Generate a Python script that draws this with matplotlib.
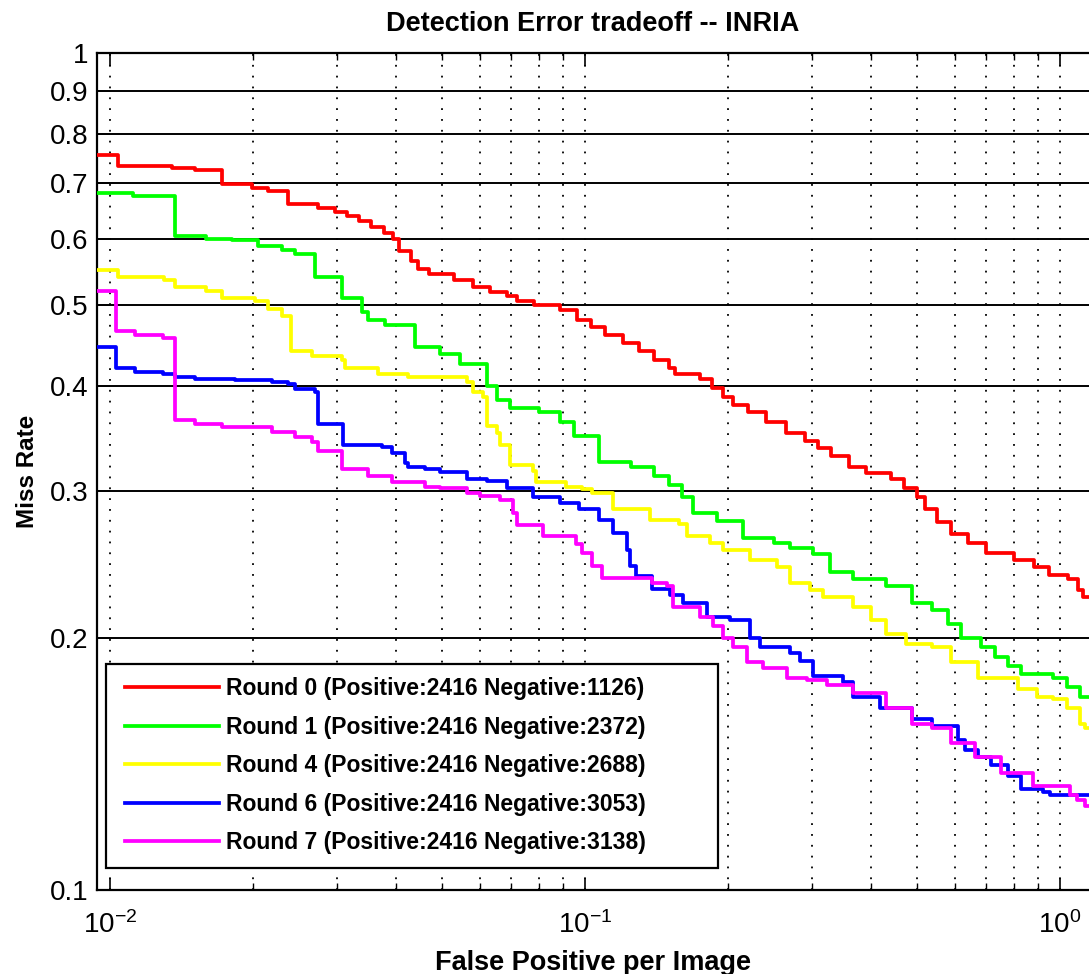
# -*- coding: utf-8 -*-
import numpy as np
import matplotlib
matplotlib.use("Agg")
import matplotlib.pyplot as plt
from matplotlib.lines import Line2D
from matplotlib.legend_handler import HandlerLine2D
from matplotlib.ticker import FixedLocator, FixedFormatter, NullLocator, LogLocator

# DET curves (fppi, miss rate), step style
r0_fppi = [0.0094, 0.0104, 0.0135, 0.0151, 0.0172, 0.0199, 0.0215, 0.0237, 0.0274, 0.0298,
           0.0315, 0.0335, 0.0355, 0.0378, 0.0395, 0.0405, 0.0430, 0.0445, 0.0470, 0.0530,
           0.0580, 0.0630, 0.0685, 0.0720, 0.0780, 0.0885, 0.0960, 0.1030, 0.1100, 0.1200,
           0.1300, 0.1400, 0.1500, 0.1550, 0.1750, 0.1850, 0.1950, 0.2050, 0.2200, 0.2400,
           0.2650, 0.2900, 0.3100, 0.3300, 0.3600, 0.3900, 0.4400, 0.4700, 0.5000, 0.5200,
           0.5500, 0.5900, 0.6400, 0.7000, 0.8000, 0.8800, 0.9500, 1.0400, 1.0900, 1.1200]
r0_miss = [0.755, 0.732, 0.728, 0.724, 0.698, 0.690, 0.684, 0.660, 0.652, 0.645,
           0.638, 0.630, 0.620, 0.610, 0.600, 0.580, 0.565, 0.552, 0.545, 0.535,
           0.525, 0.518, 0.512, 0.505, 0.500, 0.493, 0.480, 0.470, 0.460, 0.450,
           0.440, 0.430, 0.420, 0.413, 0.408, 0.398, 0.388, 0.380, 0.372, 0.362,
           0.352, 0.344, 0.337, 0.330, 0.320, 0.315, 0.310, 0.302, 0.295, 0.285,
           0.275, 0.266, 0.260, 0.253, 0.248, 0.243, 0.238, 0.235, 0.228, 0.224]

r1_fppi = [0.0094, 0.0112, 0.0137, 0.0159, 0.0181, 0.0205, 0.0230, 0.0245, 0.0270, 0.0308,
           0.0339, 0.0350, 0.0379, 0.0439, 0.0495, 0.0545, 0.0621, 0.0652, 0.0695, 0.0800,
           0.0884, 0.0950, 0.1070, 0.1250, 0.1400, 0.1500, 0.1600, 0.1690, 0.1900, 0.2150,
           0.2500, 0.2700, 0.3020, 0.3280, 0.3660, 0.4310, 0.4880, 0.5370, 0.5800, 0.6200,
           0.6820, 0.7300, 0.7760, 0.8260, 0.9660, 1.0340, 1.1000]
r1_miss = [0.680, 0.675, 0.605, 0.600, 0.598, 0.588, 0.582, 0.576, 0.540, 0.510,
           0.490, 0.480, 0.473, 0.445, 0.437, 0.425, 0.400, 0.385, 0.377, 0.372,
           0.362, 0.349, 0.325, 0.320, 0.312, 0.305, 0.295, 0.282, 0.276, 0.263,
           0.260, 0.256, 0.252, 0.240, 0.235, 0.231, 0.220, 0.216, 0.208, 0.200,
           0.195, 0.190, 0.185, 0.181, 0.179, 0.175, 0.170]

r4_fppi = [0.0094, 0.0104, 0.0130, 0.0137, 0.0159, 0.0172, 0.0202, 0.0215, 0.0230, 0.0241,
           0.0266, 0.0308, 0.0312, 0.0366, 0.0424, 0.0564, 0.0580, 0.0609, 0.0621, 0.0652,
           0.0662, 0.0695, 0.0776, 0.0790, 0.0914, 0.0988, 0.1037, 0.1144, 0.1370, 0.1580,
           0.1640, 0.1830, 0.1956, 0.2229, 0.2538, 0.2700, 0.2980, 0.3170, 0.3660, 0.4000,
           0.4310, 0.4740, 0.5370, 0.5910, 0.6720, 0.8140, 0.8940, 0.9660, 1.0340, 1.1000,
           1.1300]
r4_miss = [0.550, 0.540, 0.535, 0.525, 0.520, 0.510, 0.505, 0.495, 0.485, 0.440,
           0.435, 0.430, 0.420, 0.413, 0.410, 0.404, 0.394, 0.388, 0.358, 0.352,
           0.340, 0.322, 0.317, 0.307, 0.303, 0.301, 0.298, 0.285, 0.277, 0.274,
           0.265, 0.260, 0.255, 0.248, 0.243, 0.233, 0.228, 0.224, 0.218, 0.210,
           0.202, 0.197, 0.195, 0.187, 0.179, 0.174, 0.170, 0.169, 0.165, 0.158,
           0.156]

r6_fppi = [0.0094, 0.0103, 0.0113, 0.0129, 0.0137, 0.0151, 0.0183, 0.0219, 0.0237, 0.0245,
           0.0270, 0.0274, 0.0309, 0.0373, 0.0392, 0.0417, 0.0424, 0.0460, 0.0495, 0.0564,
           0.0621, 0.0685, 0.0776, 0.0884, 0.0973, 0.1070, 0.1144, 0.1225, 0.1244, 0.1280,
           0.1387, 0.1512, 0.1610, 0.1810, 0.2016, 0.2229, 0.2340, 0.2700, 0.2838, 0.3024,
           0.3490, 0.3660, 0.4169, 0.4880, 0.5370, 0.6110, 0.6320, 0.6720, 0.7150, 0.7760,
           0.8260, 0.9200, 0.9520]
r6_miss = [0.445, 0.420, 0.416, 0.413, 0.410, 0.408, 0.407, 0.405, 0.402, 0.397,
           0.393, 0.360, 0.340, 0.338, 0.333, 0.324, 0.320, 0.318, 0.316, 0.310,
           0.308, 0.302, 0.295, 0.290, 0.285, 0.277, 0.267, 0.255, 0.244, 0.237,
           0.229, 0.225, 0.220, 0.212, 0.210, 0.200, 0.195, 0.192, 0.188, 0.180,
           0.177, 0.170, 0.165, 0.160, 0.157, 0.151, 0.147, 0.144, 0.141, 0.137,
           0.132, 0.131, 0.130]

r7_fppi = [0.0094, 0.0103, 0.0113, 0.0129, 0.0137, 0.0151, 0.0172, 0.0219, 0.0245, 0.0266,
           0.0274, 0.0308, 0.0349, 0.0392, 0.0460, 0.0495, 0.0564, 0.0600, 0.0662, 0.0705,
           0.0719, 0.0814, 0.0958, 0.0988, 0.1037, 0.1088, 0.1387, 0.1490, 0.1535, 0.1747,
           0.1860, 0.1956, 0.2046, 0.2197, 0.2373, 0.2664, 0.2935, 0.3234, 0.3660, 0.4310,
           0.4880, 0.5370, 0.5910, 0.6625, 0.7500, 0.8780, 1.0480, 1.0840, 1.1300]
r7_miss = [0.520, 0.465, 0.460, 0.457, 0.364, 0.360, 0.357, 0.353, 0.348, 0.343,
           0.335, 0.318, 0.312, 0.307, 0.303, 0.302, 0.298, 0.296, 0.292, 0.282,
           0.273, 0.265, 0.259, 0.253, 0.244, 0.236, 0.233, 0.231, 0.218, 0.212,
           0.207, 0.200, 0.195, 0.187, 0.184, 0.179, 0.178, 0.176, 0.172, 0.165,
           0.158, 0.156, 0.150, 0.144, 0.138, 0.133, 0.130, 0.128, 0.126]

labels = ["Round 0 (Positive:2416 Negative:1126)",
          "Round 1 (Positive:2416 Negative:2372)",
          "Round 4 (Positive:2416 Negative:2688)",
          "Round 6 (Positive:2416 Negative:3053)",
          "Round 7 (Positive:2416 Negative:3138)"]
colors = ["#ff0000", "#00ff00", "#ffff00", "#0000ff", "#ff00ff"]

y_ticks = [0.1, 0.2, 0.3, 0.4, 0.5, 0.6, 0.7, 0.8, 0.9, 1.0]
y_ticklabels = ["0.1", "0.2", "0.3", "0.4", "0.5", "0.6", "0.7", "0.8", "0.9", "1"]
x_lim = (0.00939, 1.151)

plt.rcParams["font.family"] = ["Liberation Sans", "DejaVu Sans"]
plt.rcParams["mathtext.fontset"] = "custom"
plt.rcParams["mathtext.rm"] = "Liberation Sans"
plt.rcParams["mathtext.it"] = "Liberation Sans:italic"
plt.rcParams["mathtext.bf"] = "Liberation Sans:bold"

fig = plt.figure(figsize=(10.89, 9.74), dpi=100)
ax = fig.add_axes([97 / 1089, 84 / 974, 1 - 97 / 1089, (890 - 53) / 974])

curves = [(r0_fppi, r0_miss), (r1_fppi, r1_miss), (r4_fppi, r4_miss),
          (r6_fppi, r6_miss), (r7_fppi, r7_miss)]
for (fp, mr), c, lab in zip(curves, colors, labels):
    fp = np.append(fp, x_lim[1] * 1.05)
    mr = np.append(mr, mr[-1])
    ax.plot(fp, mr, drawstyle="steps-post", color=c, linewidth=2.7, label=lab, zorder=3)

ax.set_xscale("log")
ax.set_yscale("log")
ax.set_xlim(x_lim)
ax.set_ylim(0.1, 1.0)

ax.yaxis.set_major_locator(FixedLocator(y_ticks))
ax.yaxis.set_major_formatter(FixedFormatter(y_ticklabels))
ax.yaxis.set_minor_locator(NullLocator())
ax.xaxis.set_major_locator(LogLocator(base=10))
ax.xaxis.set_minor_locator(LogLocator(base=10, subs=np.arange(2, 10)))

ax.tick_params(axis="both", which="major", direction="in", length=9, width=1.2,
               labelsize=20, top=True, right=False)
ax.tick_params(axis="x", which="minor", direction="in", length=5, width=1.0, top=True)
ax.tick_params(axis="x", which="major", pad=15)
ax.tick_params(axis="y", which="major", pad=6)

# grid: solid horizontal, dotted vertical
ax.yaxis.grid(True, which="major", color="black", linestyle="-", linewidth=1.4, zorder=1)
ax.xaxis.grid(True, which="both", color="black", linestyle=(0, (1, 5)), linewidth=1.3, zorder=1)
ax.set_axisbelow(True)

for s in ["left", "top", "bottom"]:
    ax.spines[s].set_linewidth(1.6)
    ax.spines[s].set_color("black")
ax.spines["right"].set_visible(False)

ax.set_title("Detection Error tradeoff -- INRIA", fontsize=19.5, fontweight="bold", pad=16)
ax.set_xlabel("False Positive per Image", fontsize=19.5, fontweight="bold", labelpad=8)
ax.set_ylabel("Miss Rate", fontsize=17.5, fontweight="bold", labelpad=8)

leg = ax.legend(loc="lower left", bbox_to_anchor=(106 / 1089, 106 / 974, 612 / 1089, 204 / 974),
                bbox_transform=fig.transFigure, mode="expand", borderaxespad=0,
                prop={"weight": "bold", "size": 16.5}, fancybox=False,
                framealpha=1, edgecolor="black", numpoints=2,
                handler_map={Line2D: HandlerLine2D(marker_pad=0.25)},
                handlelength=4.6, handletextpad=0.05,
                labelspacing=0.675, borderpad=0.6)
leg.get_frame().set_linewidth(1.6)
leg.set_zorder(5)

plt.savefig("out.png", dpi=100)
